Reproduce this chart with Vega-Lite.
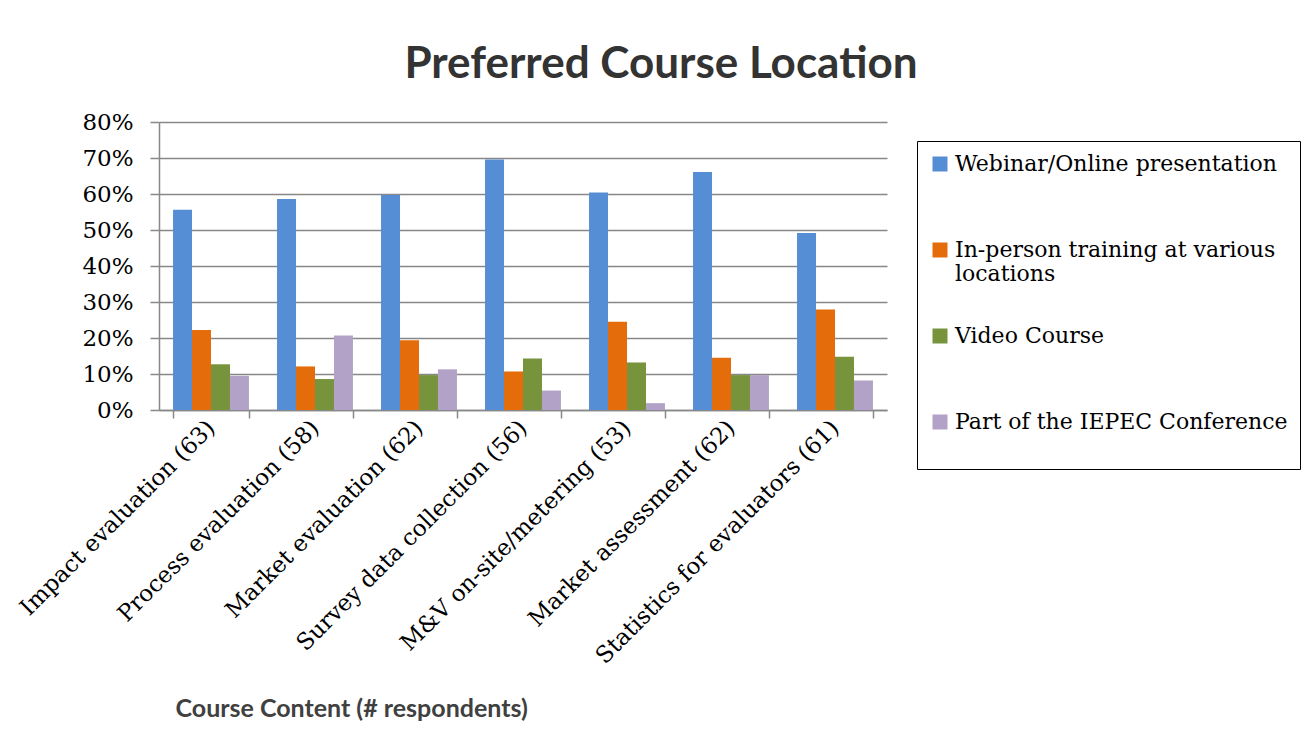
{
  "$schema": "https://vega.github.io/schema/vega-lite/v6.json",
  "width": 728,
  "height": 288,
  "autosize": {"type": "none"},
  "padding": {"left": 159, "top": 122, "right": 429, "bottom": 334},
  "background": "white",
  "title": {
    "text": "Preferred Course Location",
    "font": "Lato",
    "fontSize": 44,
    "fontWeight": "bold",
    "color": "#333333",
    "anchor": "middle",
    "frame": "group",
    "dx": 138,
    "offset": 24
  },
  "data": {
    "values": [
      {"course": "Impact evaluation (63)", "location": "Webinar/Online presentation", "share": 0.556},
      {"course": "Impact evaluation (63)", "location": "In-person training at various locations", "share": 0.222},
      {"course": "Impact evaluation (63)", "location": "Video Course", "share": 0.127},
      {"course": "Impact evaluation (63)", "location": "Part of the IEPEC Conference", "share": 0.095},
      {"course": "Process evaluation (58)", "location": "Webinar/Online presentation", "share": 0.586},
      {"course": "Process evaluation (58)", "location": "In-person training at various locations", "share": 0.121},
      {"course": "Process evaluation (58)", "location": "Video Course", "share": 0.086},
      {"course": "Process evaluation (58)", "location": "Part of the IEPEC Conference", "share": 0.207},
      {"course": "Market evaluation (62)", "location": "Webinar/Online presentation", "share": 0.597},
      {"course": "Market evaluation (62)", "location": "In-person training at various locations", "share": 0.194},
      {"course": "Market evaluation (62)", "location": "Video Course", "share": 0.097},
      {"course": "Market evaluation (62)", "location": "Part of the IEPEC Conference", "share": 0.113},
      {"course": "Survey data collection (56)", "location": "Webinar/Online presentation", "share": 0.696},
      {"course": "Survey data collection (56)", "location": "In-person training at various locations", "share": 0.107},
      {"course": "Survey data collection (56)", "location": "Video Course", "share": 0.143},
      {"course": "Survey data collection (56)", "location": "Part of the IEPEC Conference", "share": 0.054},
      {"course": "M&V on-site/metering (53)", "location": "Webinar/Online presentation", "share": 0.604},
      {"course": "M&V on-site/metering (53)", "location": "In-person training at various locations", "share": 0.245},
      {"course": "M&V on-site/metering (53)", "location": "Video Course", "share": 0.132},
      {"course": "M&V on-site/metering (53)", "location": "Part of the IEPEC Conference", "share": 0.019},
      {"course": "Market assessment (62)", "location": "Webinar/Online presentation", "share": 0.661},
      {"course": "Market assessment (62)", "location": "In-person training at various locations", "share": 0.145},
      {"course": "Market assessment (62)", "location": "Video Course", "share": 0.097},
      {"course": "Market assessment (62)", "location": "Part of the IEPEC Conference", "share": 0.097},
      {"course": "Statistics for evaluators (61)", "location": "Webinar/Online presentation", "share": 0.492},
      {"course": "Statistics for evaluators (61)", "location": "In-person training at various locations", "share": 0.279},
      {"course": "Statistics for evaluators (61)", "location": "Video Course", "share": 0.148},
      {"course": "Statistics for evaluators (61)", "location": "Part of the IEPEC Conference", "share": 0.082}
    ]
  },
  "mark": {"type": "bar"},
  "encoding": {
    "x": {
      "field": "course",
      "type": "nominal",
      "sort": null,
      "scale": {"paddingInner": 0.27, "paddingOuter": 0.135},
      "axis": {
        "title": "Course Content (# respondents)",
        "titleFont": "Lato",
        "titleFontSize": 25,
        "titleFontWeight": "bold",
        "titleColor": "#404040",
        "titleAlign": "left",
        "titleAnchor": null,
        "titleBaseline": "middle",
        "titleX": 16,
        "titleY": 298,
        "labelAngle": -45,
        "labelAlign": "right",
        "labelBaseline": "middle",
        "labelFont": "DejaVu Serif",
        "labelFontSize": 23,
        "labelColor": "#000000",
        "labelPadding": 6,
        "labelLimit": 500,
        "tickBand": "extent",
        "tickSize": 8,
        "tickColor": "#888888",
        "tickWidth": 1.5,
        "domainColor": "#888888",
        "domainWidth": 1.5,
        "grid": false
      }
    },
    "xOffset": {
      "field": "location",
      "sort": ["Webinar/Online presentation", "In-person training at various locations", "Video Course", "Part of the IEPEC Conference"],
      "scale": {"paddingInner": 0, "paddingOuter": 0}
    },
    "y": {
      "field": "share",
      "type": "quantitative",
      "scale": {"domain": [0, 0.8]},
      "axis": {
        "title": null,
        "format": ".0%",
        "values": [0, 0.1, 0.2, 0.3, 0.4, 0.5, 0.6, 0.7, 0.8],
        "labelFont": "DejaVu Serif",
        "labelFontSize": 23,
        "labelColor": "#000000",
        "labelPadding": 17,
        "tickSize": 9,
        "tickColor": "#888888",
        "tickWidth": 1.5,
        "domainColor": "#888888",
        "domainWidth": 1.5,
        "grid": true,
        "gridColor": "#888888",
        "gridWidth": 1.5
      }
    },
    "color": {
      "field": "location",
      "type": "nominal",
      "scale": {
        "domain": ["Webinar/Online presentation", "In-person training at various locations", "Video Course", "Part of the IEPEC Conference"],
        "range": ["#558ED5", "#E46C0A", "#77933C", "#B3A2C7"]
      },
      "legend": {
        "orient": "none",
        "legendX": 758,
        "legendY": 19,
        "title": null,
        "strokeColor": "#000000",
        "padding": 12,
        "labelFont": "DejaVu Serif",
        "labelFontSize": 22,
        "labelColor": "#000000",
        "labelLimit": 420,
        "labelOffset": 4,
        "symbolType": "square",
        "symbolSize": 225,
        "symbolStrokeWidth": 0,
        "rowPadding": 40,
        "labelExpr": "datum.label == 'In-person training at various locations' ? ['In-person training at various', 'locations'] : [datum.label, ' ']"
      }
    }
  },
  "config": {
    "view": {"stroke": null}
  }
}
